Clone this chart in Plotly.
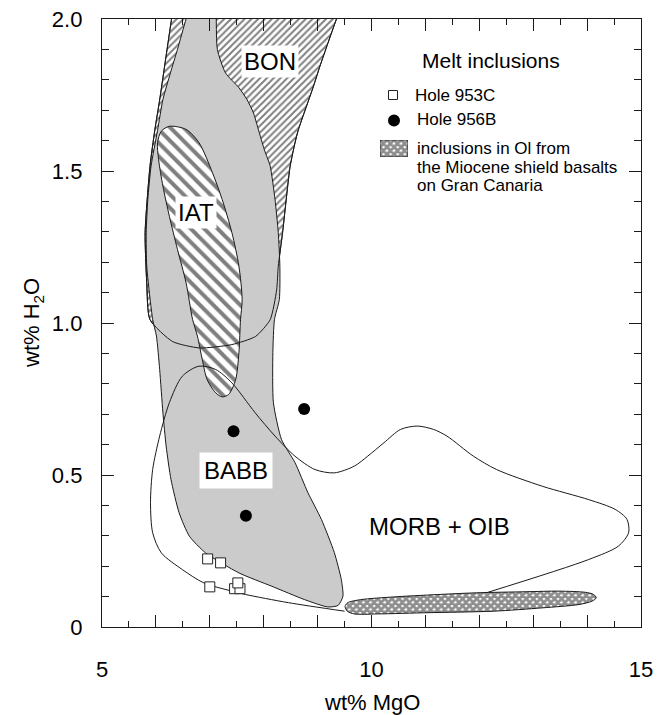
import plotly.graph_objects as go

# ---- field outlines (wt% MgO, wt% H2O) ----
bon_mgo = [6.34, 6.29, 6.16, 6.07, 5.98, 5.89, 5.80, 5.83, 5.89, 6.31, 6.81, 7.41, 7.85, 8.12,
           8.24, 8.27, 8.35, 8.49, 8.58, 8.64, 8.77, 8.92, 9.04, 9.19, 9.35, 9.47, 6.34]
bon_h2o = [2.06, 2.00, 1.843, 1.734, 1.635, 1.515, 1.297, 1.132, 1.011, 0.939, 0.918, 0.929, 0.956, 1.011,
           1.109, 1.186, 1.297, 1.515, 1.592, 1.634, 1.701, 1.777, 1.843, 1.92, 2.00, 2.06, 2.06]

babb_mgo = [7.12, 7.12, 7.14, 7.29, 7.54, 7.69, 7.81, 7.90, 8.01, 8.12, 8.21, 8.27, 8.30, 8.29, 8.20,
            8.17, 8.18, 8.33, 8.58, 8.82, 9.07, 9.31, 9.44, 9.47, 9.38, 9.19, 8.76, 8.15, 7.54, 6.92,
            6.62, 6.43, 6.28, 6.19, 6.13, 6.07, 6.01, 5.94, 5.83, 5.82, 5.85, 5.91, 6.03, 6.13, 6.27,
            6.40, 6.56, 6.67, 7.12]
babb_h2o = [2.06, 2.00, 1.90, 1.823, 1.774, 1.735, 1.691, 1.637, 1.571, 1.516, 1.406, 1.298, 1.187, 1.077, 1.012,
            0.903, 0.738, 0.617, 0.541, 0.442, 0.354, 0.245, 0.156, 0.101, 0.071, 0.066, 0.090, 0.134, 0.178, 0.244,
            0.299, 0.376, 0.485, 0.595, 0.705, 0.847, 0.957, 1.012, 1.187, 1.297, 1.406, 1.516, 1.633, 1.735, 1.823,
            1.90, 2.00, 2.06, 2.06]

iat_mgo = [6.25, 6.56, 6.80, 7.05, 7.23, 7.41, 7.54, 7.60, 7.57, 7.54, 7.48, 7.35, 7.23, 7.11, 6.95,
           6.86, 6.77, 6.68, 6.56, 6.40, 6.25, 6.13, 6.05, 6.03, 6.10, 6.25]
iat_h2o = [1.647, 1.637, 1.593, 1.494, 1.406, 1.297, 1.187, 1.077, 1.012, 0.902, 0.814, 0.765, 0.757, 0.770, 0.814,
           0.880, 0.957, 1.012, 1.132, 1.242, 1.351, 1.450, 1.538, 1.593, 1.631, 1.647]

morb_mgo = [12.13, 14.03, 14.58, 14.77, 14.74, 14.52, 14.03, 13.17, 12.32, 11.89, 11.40, 11.15, 10.85, 10.54,
            10.23, 9.93, 9.68, 9.31, 8.95, 8.58, 8.21, 7.84, 7.41, 7.11, 6.80, 6.49, 6.25, 6.07, 5.94, 5.90,
            5.94, 6.10, 6.49, 6.89, 7.41, 7.66, 8.46, 9.50]
morb_h2o = [0.1125, 0.222, 0.266, 0.310, 0.354, 0.387, 0.419, 0.463, 0.518, 0.562, 0.628, 0.650, 0.661, 0.650,
            0.606, 0.562, 0.529, 0.507, 0.518, 0.562, 0.628, 0.705, 0.803, 0.847, 0.858, 0.825, 0.738, 0.628, 0.518, 0.409,
            0.310, 0.244, 0.189, 0.145, 0.118, 0.107, 0.080, 0.052]

gc_mgo = [9.51, 9.56, 9.80, 10.42, 11.03, 11.95, 12.87, 13.48, 13.97, 14.12, 14.17, 14.09, 13.85, 13.17,
          12.26, 11.03, 10.11, 9.68, 9.55, 9.51]
gc_h2o = [0.068, 0.080, 0.090, 0.099, 0.105, 0.1125, 0.116, 0.118, 0.114, 0.107, 0.096, 0.085, 0.074, 0.063,
          0.052, 0.047, 0.043, 0.043, 0.052, 0.068]

# ---- melt inclusion analyses ----
hole953c_mgo = [6.96, 7.20, 7.00, 7.46, 7.56, 7.52]
hole953c_h2o = [0.224, 0.211, 0.132, 0.126, 0.126, 0.145]
hole956b_mgo = [8.75, 7.44, 7.67]
hole956b_h2o = [0.717, 0.644, 0.366]

# ---- field labels ----
field_names = ["BON", "IAT", "BABB", "MORB + OIB"]
field_mgo = [8.12, 6.74, 7.48, 11.27]
field_h2o = [1.86, 1.364, 0.515, 0.332]

x_tickvals = [5, 6, 7, 8, 9, 10, 11, 12, 13, 14, 15]
x_ticktext = ["5", "", "", "", "", "10", "", "", "", "", "15"]
y_tickvals = [0, 0.5, 1.0, 1.5, 2.0]
y_ticktext = ["0", "0.5", "1.0", "1.5", "2.0"]

FONT = "Liberation Sans, Arial, sans-serif"
INK = "#1a1a1a"

# plot-area geometry in pixels (used to place the hand-built legend)
W, H = 658, 715
ML, MR, MT, MB = 102, 17, 19, 88
PW, PH = W - ML - MR, H - MT - MB


def px(x):
    return (x - ML) / PW


def py(y):
    return (H - MB - y) / PH


crosshatch = dict(shape="x", size=5, solidity=0.8, fgcolor="#1e1e1e", bgcolor="white")

fig = go.Figure()

# boninite field, hatched
fig.add_trace(go.Scatter(
    x=bon_mgo, y=bon_h2o, mode="lines", fill="toself", fillcolor="white",
    fillpattern=dict(shape="/", size=4.8, solidity=0.4, fgcolor="black", bgcolor="white"),
    line=dict(color=INK, width=1, shape="spline", smoothing=0.6), hoverinfo="skip", showlegend=False))

# back-arc basin basalt field, grey
fig.add_trace(go.Scatter(
    x=babb_mgo, y=babb_h2o, mode="lines", fill="toself", fillcolor="#cbcbcb",
    line=dict(color=INK, width=1, shape="spline", smoothing=0.6), hoverinfo="skip", showlegend=False))

# island arc tholeiite field
fig.add_trace(go.Scatter(
    x=iat_mgo, y=iat_h2o, mode="lines", fill="toself", fillcolor="white",
    fillpattern=dict(shape="\\", size=9.5, solidity=0.42, fgcolor="black", bgcolor="white"),
    line=dict(color=INK, width=1, shape="spline", smoothing=0.8), hoverinfo="skip", showlegend=False))

# boninite outline again so its lower edge shows across the other fields
fig.add_trace(go.Scatter(
    x=bon_mgo, y=bon_h2o, mode="lines",
    line=dict(color=INK, width=1, shape="spline", smoothing=0.6), hoverinfo="skip", showlegend=False))

# MORB + OIB outline
fig.add_trace(go.Scatter(
    x=morb_mgo, y=morb_h2o, mode="lines",
    line=dict(color=INK, width=1, shape="spline", smoothing=0.8), hoverinfo="skip", showlegend=False))

# Gran Canaria olivine-hosted inclusions
fig.add_trace(go.Scatter(
    x=gc_mgo, y=gc_h2o, mode="lines", fill="toself", fillcolor="white", fillpattern=crosshatch,
    line=dict(color=INK, width=1, shape="spline", smoothing=0.8), hoverinfo="skip", showlegend=False))

# melt inclusions
fig.add_trace(go.Scatter(
    x=hole953c_mgo, y=hole953c_h2o, mode="markers", name="Hole 953C",
    marker=dict(symbol="square", size=10, color="white", line=dict(color="#222222", width=1)),
    showlegend=False))
fig.add_trace(go.Scatter(
    x=hole956b_mgo, y=hole956b_h2o, mode="markers", name="Hole 956B",
    marker=dict(symbol="circle", size=12, color="black", line=dict(width=0)),
    showlegend=False))

# legend swatch for the Gran Canaria field, on its own small axes
fig.add_trace(go.Scatter(
    x=[0, 1, 1, 0, 0], y=[0, 0, 1, 1, 0], mode="lines", fill="toself", fillcolor="white",
    fillpattern=crosshatch, line=dict(color=INK, width=1), xaxis="x2", yaxis="y2",
    hoverinfo="skip", showlegend=False))

annotations = []
for name, mx, hy in zip(field_names, field_mgo, field_h2o):
    boxed = name != "MORB + OIB"
    annotations.append(dict(
        x=mx, y=hy, xref="x", yref="y", text=name, showarrow=False,
        font=dict(family=FONT, size=24, color="black"),
        bgcolor="white" if boxed else None, borderpad=2 if name != "BABB" else 4))


def legend_text(text, x, y, size=17, anchor="left"):
    return dict(x=px(x), y=py(y), xref="paper", yref="paper", text=text, showarrow=False,
                xanchor=anchor, yanchor="middle", font=dict(family=FONT, size=size, color="black"))


annotations += [
    legend_text("Melt inclusions", 491, 61, size=21, anchor="center"),
    legend_text("Hole 953C", 413, 95),
    legend_text("Hole 956B", 415, 120),
    legend_text("inclusions in Ol from", 415, 149),
    legend_text("the Miocene shield basalts", 415, 167),
    legend_text("on Gran Canaria", 415, 185),
    # axis titles
    dict(x=0.5, y=0, xref="paper", yref="paper", text="wt% MgO", showarrow=False,
         xanchor="center", yanchor="middle", yshift=-75, font=dict(family=FONT, size=22, color="black")),
    dict(x=0, y=0.5, xref="paper", yref="paper", text="wt% H<sub>2</sub>O", showarrow=False,
         xanchor="center", yanchor="middle", xshift=-69, textangle=-90,
         font=dict(family=FONT, size=22, color="black")),
]

shapes = [
    dict(type="rect", xref="paper", yref="paper", xsizemode="pixel", ysizemode="pixel",
         xanchor=px(393), yanchor=py(95), x0=-4.5, x1=4.5, y0=-4.5, y1=4.5,
         line=dict(color="#222222", width=1), fillcolor="white"),
    dict(type="circle", xref="paper", yref="paper", xsizemode="pixel", ysizemode="pixel",
         xanchor=px(394), yanchor=py(120.5), x0=-6, x1=6, y0=-6, y1=6,
         line=dict(width=0), fillcolor="black"),
]

axis_common = dict(
    showline=True, linecolor=INK, linewidth=1.3, mirror="allticks",
    ticks="inside", tickcolor=INK, tickwidth=1.2, ticklen=12,
    showgrid=False, zeroline=False, automargin=False,
    tickfont=dict(family=FONT, size=22, color="black"),
)

fig.update_layout(
    width=W, height=H,
    margin=dict(l=ML, r=MR, t=MT, b=MB, autoexpand=False),
    paper_bgcolor="white", plot_bgcolor="white",
    xaxis=dict(range=[5, 15], tickmode="array", tickvals=x_tickvals, ticktext=x_ticktext,
               ticklabelstandoff=22,
               minor=dict(tickmode="linear", tick0=5, dtick=0.5, ticks="inside", ticklen=6,
                          tickcolor=INK, tickwidth=1.2),
               **axis_common),
    yaxis=dict(range=[0, 2.0], tickmode="array", tickvals=y_tickvals, ticktext=y_ticktext,
               ticklabelstandoff=14,
               minor=dict(tickmode="linear", tick0=0, dtick=0.1, ticks="inside", ticklen=7,
                          tickcolor=INK, tickwidth=1.2),
               **axis_common),
    xaxis2=dict(domain=[px(380), px(408)], range=[0, 1], anchor="y2", visible=False, fixedrange=True),
    yaxis2=dict(domain=[py(157), py(140)], range=[0, 1], anchor="x2", visible=False, fixedrange=True),
    annotations=annotations,
    shapes=shapes,
    showlegend=False,
)

fig.write_html("out.html")
